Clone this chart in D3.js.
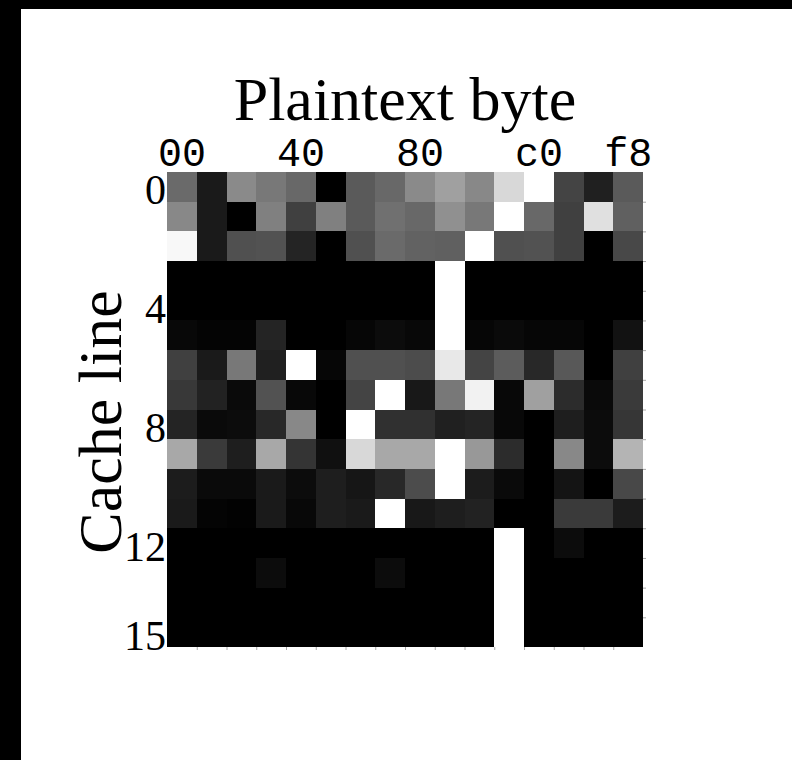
<!DOCTYPE html>
<html>
<head>
<meta charset="utf-8">
<script src="https://cdn.jsdelivr.net/npm/d3@7"></script>
<style>
  body { margin: 0; background: #fff; }
  svg { display: block; }
</style>
</head>
<body>
<script>
// cache line index (rows) and plaintext byte bucket (columns)
const cacheLines = [0, 1, 2, 3, 4, 5, 6, 7, 8, 9, 10, 11, 12, 13, 14, 15];
const byteBuckets = [0, 1, 2, 3, 4, 5, 6, 7, 8, 9, 10, 11, 12, 13, 14, 15];

// tick labels
const xTickCols = [0, 4, 8, 12, 15];
const xTickText = ['00', '40', '80', 'c0', 'f8'];
const yTickRows = [0, 4, 8, 12, 15];

// grey level of each cell (0 = black, 255 = white), one array per cache line
const hits = [
  [106, 26, 138, 120, 104, 0, 90, 104, 138, 160, 136, 216, 255, 68, 32, 90],
  [136, 26, 0, 128, 64, 128, 90, 112, 104, 144, 120, 255, 104, 64, 224, 96],
  [248, 26, 80, 82, 36, 0, 80, 106, 98, 96, 255, 80, 82, 64, 0, 72],
  [0, 0, 0, 0, 0, 0, 0, 0, 0, 255, 0, 0, 0, 0, 0, 0],
  [0, 0, 0, 0, 0, 0, 0, 0, 0, 255, 0, 0, 0, 0, 0, 0],
  [8, 4, 4, 36, 0, 0, 6, 12, 8, 255, 6, 10, 6, 6, 0, 18],
  [64, 26, 120, 32, 255, 6, 80, 80, 76, 232, 68, 92, 40, 88, 0, 64],
  [56, 34, 10, 82, 8, 0, 68, 255, 24, 120, 242, 8, 160, 44, 10, 58],
  [36, 10, 12, 40, 136, 0, 255, 48, 48, 32, 36, 8, 0, 30, 12, 54],
  [168, 58, 30, 168, 52, 16, 216, 168, 168, 255, 152, 44, 0, 136, 12, 180],
  [28, 10, 10, 26, 12, 30, 22, 40, 76, 255, 28, 10, 0, 20, 0, 72],
  [26, 4, 2, 26, 8, 30, 26, 255, 24, 30, 34, 0, 0, 58, 58, 28],
  [0, 0, 0, 0, 0, 0, 0, 0, 0, 0, 0, 255, 0, 12, 0, 0],
  [0, 0, 0, 12, 0, 0, 0, 12, 0, 0, 0, 255, 0, 0, 0, 0],
  [0, 0, 0, 0, 0, 0, 0, 0, 0, 0, 0, 255, 0, 0, 0, 0],
  [0, 0, 0, 0, 0, 0, 0, 0, 0, 0, 0, 255, 0, 0, 0, 0]
];

const width = 792,
  height = 760;

const svg = d3.select('body').append('svg')
  .attr('width', width)
  .attr('height', height);

// black frame on the left and top edges of the screenshot
svg.append('rect').attr('x', 0).attr('y', 0).attr('width', 21).attr('height', height).attr('fill', '#000');
svg.append('rect').attr('x', 0).attr('y', 0).attr('width', width).attr('height', 9).attr('fill', '#000');

const x = d3.scaleBand().domain(byteBuckets).range([167, 643]);
const y = d3.scaleBand().domain(cacheLines).range([172, 647]);
const grey = d3.scaleLinear().domain([0, 255]).range(['#000', '#fff']);

// flatten to cells
const cells = [];
hits.forEach(function(row, r) {
  row.forEach(function(v, c) {
    cells.push({ row: cacheLines[r], col: byteBuckets[c], v: v });
  });
});

// draw in order so later cells overlap the 1px slack of earlier ones
svg.append('g').attr('class', 'cells')
  .attr('shape-rendering', 'crispEdges')
  .selectAll('rect')
  .data(cells)
  .enter()
  .append('rect')
  .attr('x', d => x(d.col))
  .attr('y', d => y(d.row))
  .attr('width', d => x.bandwidth() + (d.col < 15 ? 1 : 0))
  .attr('height', d => y.bandwidth() + (d.row < 15 ? 1 : 0))
  .attr('fill', d => grey(d.v));

// faint boundary ticks on bottom and right
const xEdge = d3.scaleLinear().domain([0, 16]).range([167, 643]);
const yEdge = d3.scaleLinear().domain([0, 16]).range([172, 647]);

svg.append('g')
  .attr('transform', 'translate(0,647)')
  .call(d3.axisBottom(xEdge).tickValues(d3.range(1, 16)).tickSize(3).tickFormat(''))
  .call(g => g.select('.domain').remove())
  .call(g => g.selectAll('line').attr('stroke', '#aaa'));

svg.append('g')
  .attr('transform', 'translate(643,0)')
  .call(d3.axisRight(yEdge).tickValues(d3.range(1, 16)).tickSize(3).tickFormat(''))
  .call(g => g.select('.domain').remove())
  .call(g => g.selectAll('line').attr('stroke', '#aaa'));

// top axis: plaintext byte
const xAxis = svg.append('g')
  .attr('transform', 'translate(0,172)')
  .call(d3.axisTop(x).tickValues(xTickCols).tickSize(0).tickPadding(6)
    .tickFormat((d, i) => xTickText[i]));
xAxis.select('.domain').remove();
xAxis.selectAll('text')
  .attr('font-family', '"Liberation Mono", "DejaVu Sans Mono", monospace')
  .attr('font-size', 40)
  .attr('fill', '#000');

// left axis: cache line
const yAxis = svg.append('g')
  .attr('transform', 'translate(167,0)')
  .call(d3.axisLeft(y).tickValues(yTickRows).tickSize(0).tickPadding(1));
yAxis.select('.domain').remove();
yAxis.selectAll('text')
  .attr('dy', '0.42em')
  .attr('font-family', '"Liberation Serif", "Times New Roman", serif')
  .attr('font-size', 42)
  .attr('fill', '#000');

// titles
svg.append('text')
  .attr('x', 405)
  .attr('y', 120)
  .attr('text-anchor', 'middle')
  .attr('font-family', '"Liberation Serif", "Times New Roman", serif')
  .attr('font-size', 62)
  .attr('fill', '#000')
  .text('Plaintext byte');

svg.append('text')
  .attr('transform', 'translate(121,422) rotate(-90)')
  .attr('text-anchor', 'middle')
  .attr('font-family', '"Liberation Serif", "Times New Roman", serif')
  .attr('font-size', 62)
  .attr('fill', '#000')
  .text('Cache line');
</script>
</body>
</html>
